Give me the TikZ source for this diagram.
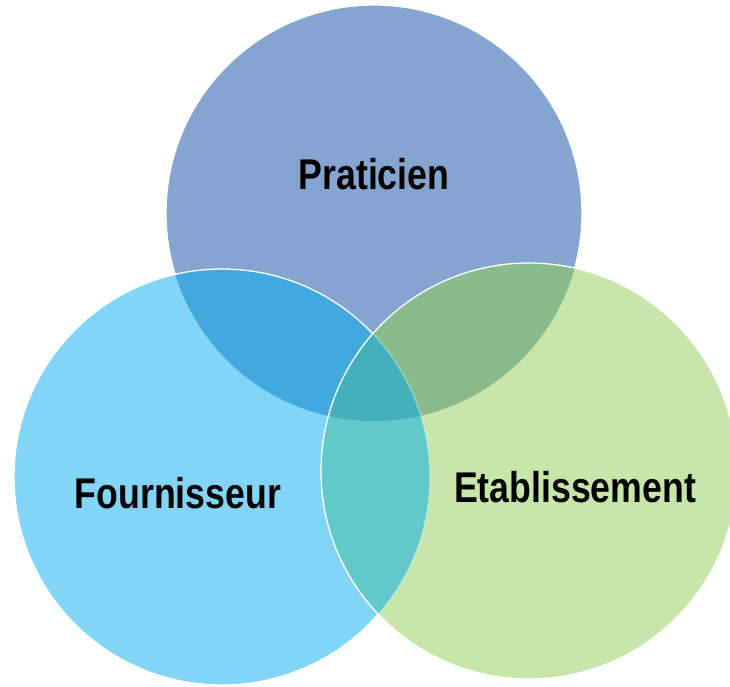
\documentclass[tikz,border=0pt]{standalone}
\usepackage{fontspec}
\newfontfamily\labelfont{Liberation Sans}[FakeStretch=0.83]
\definecolor{praticien}{HTML}{84A5CF}
\definecolor{fournisseur}{HTML}{82D5F7}
\definecolor{etablissement}{HTML}{C8E6A9}
\definecolor{pratfour}{HTML}{42A9DF}
\definecolor{pratetab}{HTML}{8ABB8E}
\definecolor{fouretab}{HTML}{62C9CB}
\definecolor{allthree}{HTML}{41B0BB}

\begin{document}
\begin{tikzpicture}[x=1pt,y=-1pt,
ring/.style={draw=white, line width=1.3pt},
labeltext/.style={font=\labelfont\bfseries\fontsize{43}{43}\selectfont, text=black, anchor=base},
]
\useasboundingbox (0,0) rectangle (730,686);
\def\rad{208}
\coordinate (prat) at (374,213);
\coordinate (four) at (222,477);
\coordinate (etab) at (529,471);

% top circle
\fill[praticien] (prat) circle[radius=\rad];
\draw[ring] (prat) circle[radius=\rad];

% left circle
\fill[fournisseur] (four) circle[radius=\rad];
\begin{scope}
  \clip (prat) circle[radius=\rad];
  \fill[pratfour] (four) circle[radius=\rad];
\end{scope}
\draw[ring] (four) circle[radius=\rad];

% right circle
\fill[etablissement] (etab) circle[radius=\rad];
\begin{scope}
  \clip (etab) circle[radius=\rad];
  \begin{scope}
    \clip (prat) circle[radius=\rad];
    \fill[pratetab] (etab) circle[radius=\rad];
  \end{scope}
  \begin{scope}
    \clip (four) circle[radius=\rad];
    \fill[fouretab] (etab) circle[radius=\rad];
    \clip (prat) circle[radius=\rad];
    \fill[allthree] (etab) circle[radius=\rad];
  \end{scope}
  \draw[ring, draw opacity=0.35] (four) circle[radius=\rad];
\end{scope}
\draw[ring] (etab) circle[radius=\rad];

% labels
\node[labeltext] (lprat) at (374,189) {Praticien};
\node[labeltext] (lfour) at (178,508) {Fournisseur};
\node[labeltext] (letab) at (575,502) {Etablissement};
\end{tikzpicture}
\end{document}
